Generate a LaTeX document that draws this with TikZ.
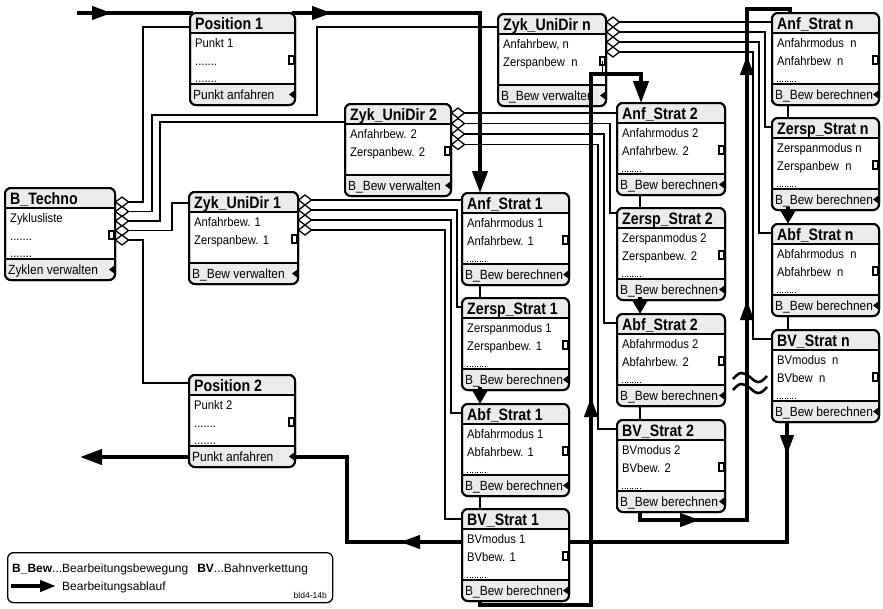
\documentclass[tikz,border=0pt]{standalone}
\usepackage{fontspec}
\setmainfont{Liberation Sans}
\newfontfamily\hf{Liberation Sans}[FakeStretch=0.86]
\newfontfamily\cf{Liberation Sans}[FakeStretch=0.9]
\usetikzlibrary{arrows.meta,shapes.geometric,decorations.markings,calc}
\tikzset{
 boxshape/.style={rectangle, rounded corners=6pt, fill=white, draw, line width=2pt, inner sep=0pt, outer sep=0pt},
 hdrfill/.style={fill=black!8},
 sepline/.style={line width=2pt},
 hdrtext/.style={font={\hf\bfseries\fontsize{16.5}{17}\selectfont}, inner sep=0pt, anchor=base west},
 bodytext/.style={font={\cf\fontsize{12.5}{13}\selectfont}, inner sep=0pt, anchor=base west},
 foottext/.style={font={\cf\fontsize{13.3}{14}\selectfont}, inner sep=0pt, anchor=base west},
 dia/.style={diamond, draw, fill=white, line width=1.3pt, minimum width=13pt, minimum height=10pt, inner sep=0pt, outer sep=0pt},
 conn/.style={line width=1.8pt},
 flow/.style={line width=4pt},
 link/.style={line width=2pt},
 arr/.style={postaction={decorate, decoration={markings, mark=at position #1 with {\arrow{Triangle[length=20pt,width=13pt]}}}}},
 endtip/.style={-{Triangle[length=22pt,width=15pt]}},
 gaptip/.style={-{Triangle[length=15pt,width=16pt]}},
}
\newcommand\klass[8]{%
 \node[boxshape, minimum width=#4pt, minimum height=92pt, anchor=north west] (#1) at (#2,#3) {};
 \begin{scope}
 \clip[rounded corners=6pt] (#1.north west) rectangle (#1.south east);
 \fill[hdrfill] (#1.north west) rectangle ([yshift=-20pt]#1.north east);
 \fill[hdrfill] ([yshift=21pt]#1.south west) rectangle (#1.south east);
 \end{scope}
 \draw[sepline] ([yshift=-20pt]#1.north west) -- ([yshift=-20pt]#1.north east);
 \draw[sepline] ([yshift=21pt]#1.south west) -- ([yshift=21pt]#1.south east);
 \draw[line width=2pt, rounded corners=6pt] (#1.north west) rectangle (#1.south east);
 \node[hdrtext] (#1-t) at ([xshift=5pt,yshift=-16pt]#1.north west) {#5};
 \node[bodytext] (#1-a) at ([xshift=5pt,yshift=-34.5pt]#1.north west) {#6};
 \node[bodytext] (#1-b) at ([xshift=5pt,yshift=-52.5pt]#1.north west) {#7};
 \node[foottext] (#1-f) at ([xshift=3pt,yshift=5.5pt]#1.south west) {#8};
 \coordinate (#1-p) at ([xshift=-3.5pt,yshift=-47pt]#1.north east);
 \draw[line width=1.3pt, fill=white] ([xshift=-2.5pt,yshift=4pt]#1-p) rectangle ([xshift=2.5pt,yshift=-4pt]#1-p);
 \fill ([yshift=15pt]#1.south east) -- ([xshift=-6pt,yshift=10.5pt]#1.south east) -- ([yshift=6pt]#1.south east) -- cycle;
}
\newcommand\dotrow[1]{\draw[line width=0.9pt, dash pattern=on 0.9pt off 1.6pt] ([xshift=5pt,yshift=24pt]#1.south west) -- ++(20,0);}
\newcommand\thirdline[2]{\node[bodytext] (#1-c) at ([xshift=5pt,yshift=-69pt]#1.north west) {#2};}

\begin{document}
\begin{tikzpicture}[x=1pt,y=-1pt]
\useasboundingbox (0,0) rectangle (883,608);
\fill[white] (0,0) rectangle (883,608);

% ---------- boxes ----------
\klass{pos1}{190}{13}{105}{Position 1}{Punkt 1}{.......}{Punkt anfahren}
\thirdline{pos1}{.......}
\klass{techno}{5}{188}{110}{B\_Techno}{Zyklusliste}{.......}{Zyklen verwalten}
\thirdline{techno}{.......}
\klass{zyk1}{189}{192}{109}{Zyk\_UniDir 1}{Anfahrbew. 1}{Zerspanbew. 1}{B\_Bew verwalten}
\klass{zyk2}{345}{104}{106}{Zyk\_UniDir 2}{Anfahrbew. 2}{Zerspanbew. 2}{B\_Bew verwalten}
\klass{zykn}{498}{14}{108}{Zyk\_UniDir n}{Anfahrbew, n}{Zerspanbew~ n}{B\_Bew verwalten}
\klass{pos2}{189}{375}{106}{Position 2}{Punkt 2}{.......}{Punkt anfahren}
\thirdline{pos2}{.......}

\klass{anf1}{462}{193}{107}{Anf\_Strat 1}{Anfahrmodus 1}{Anfahrbew. 1}{B\_Bew berechnen}
\klass{zer1}{462}{298}{107}{Zersp\_Strat 1}{Zerspanmodus 1}{Zerspanbew. 1}{B\_Bew berechnen}
\klass{abf1}{462}{404}{107}{Abf\_Strat 1}{Abfahrmodus 1}{Abfahrbew. 1}{B\_Bew berechnen}
\klass{bv1}{462}{509}{107}{BV\_Strat 1}{BVmodus 1}{BVbew. 1}{B\_Bew berechnen}
\klass{anf2}{617}{103}{108}{Anf\_Strat 2}{Anfahrmodus 2}{Anfahrbew. 2}{B\_Bew berechnen}
\klass{zer2}{617}{208}{108}{Zersp\_Strat 2}{Zerspanmodus 2}{Zerspanbew. 2}{B\_Bew berechnen}
\klass{abf2}{617}{314}{108}{Abf\_Strat 2}{Abfahrmodus 2}{Abfahrbew. 2}{B\_Bew berechnen}
\klass{bv2}{617}{420}{108}{BV\_Strat 2}{BVmodus 2}{BVbew. 2}{B\_Bew berechnen}
\klass{anfn}{772}{13}{107}{Anf\_Strat n}{Anfahrmodus~ n}{Anfahrbew~ n}{B\_Bew berechnen}
\klass{zern}{772}{118}{107}{Zersp\_Strat n}{Zerspanmodus n}{Zerspanbew~ n}{B\_Bew berechnen}
\klass{abfn}{772}{224}{107}{Abf\_Strat n}{Abfahrmodus~ n}{Abfahrbew~ n}{B\_Bew berechnen}
\klass{bvn}{772}{330}{107}{BV\_Strat n}{BVmodus~ n}{BVbew~ n}{B\_Bew berechnen}
\foreach \b in {anf1,zer1,abf1,bv1,anf2,zer2,abf2,bv2,anfn,zern,abfn,bvn}{\dotrow{\b}}

% ---------- diamonds ----------
\foreach \i/\yy in {1/202,2/211.5,3/221,4/230.5,5/240}{\node[dia] (tech-d\i) at (122,\yy) {};}
\foreach \i/\yy in {1/200,2/210,3/220,4/230}{\node[dia] (zyk1-d\i) at (305,\yy) {};}
\foreach \i/\yy in {1/113,2/123.5,3/134,4/144.5}{\node[dia] (zyk2-d\i) at (458,\yy) {};}
\foreach \i/\yy in {1/22,2/32,3/42,4/52}{\node[dia] (zykn-d\i) at (613,\yy) {};}

% ---------- connectors ----------
\draw[conn] (tech-d1.east) -| (143,27) -- (pos1.west |- 0,27);
\draw[conn] (tech-d2.east) -| (152,115) -| (317,27) -- (zykn.west |- 0,27);
\draw[conn] (tech-d3.east) -| (160,122) -- (zyk2.west |- 0,122);
\draw[conn] (tech-d4.east) -| (172,203) -- (zyk1.west |- 0,203);
\draw[conn] (tech-d5.east) -| (143,383) -- (pos2.west |- 0,383);

\draw[conn] (zyk1-d1.east) -- (zyk1-d1.east -| anf1.west);
\draw[conn] (zyk1-d2.east) -| (457,307) -- (zer1.west |- 0,307);
\draw[conn] (zyk1-d3.east) -| (451,413) -- (abf1.west |- 0,413);
\draw[conn] (zyk1-d4.east) -| (445,519) -- (bv1.west |- 0,519);

\draw[conn] (zyk2-d1.east) -- (zyk2-d1.east -| anf2.west);
\draw[conn] (zyk2-d2.east) -| (610,213) -- (zer2.west |- 0,213);
\draw[conn] (zyk2-d3.east) -| (604,323) -- (abf2.west |- 0,323);
\draw[conn] (zyk2-d4.east) -| (598,429) -- (bv2.west |- 0,429);

\draw[conn] (zykn-d1.east) -- (zykn-d1.east -| anfn.west);
\draw[conn] (zykn-d2.east) -| (765,127) -- (zern.west |- 0,127);
\draw[conn] (zykn-d3.east) -| (759,233) -- (abfn.west |- 0,233);
\draw[conn] (zykn-d4.east) -| (753,339) -- (bvn.west |- 0,339);

% ---------- links inside each column ----------
\foreach \a/\b/\xx in {anf1/zer1/480,abf1/bv1/480,anf2/zer2/640,abf2/bv2/640,anfn/zern/788,abfn/bvn/788}{
 \draw[link] (\a.south -| \xx,0) -- (\b.north -| \xx,0);}
\foreach \a/\b/\xx in {zer1/abf1/480,zer2/abf2/640,zern/abfn/788}{
 \draw[flow,gaptip] ([yshift=3pt]\a.south -| \xx,0) -- (\b.north -| \xx,0);}

% ---------- flow (Bearbeitungsablauf) ----------
\coordinate (fstart) at (77,13);
\coordinate (fend) at (80,457);
\draw[flow, arr=35pt] (fstart) -- ([xshift=3pt]pos1.north west);
\draw[flow, endtip, arr=40pt] ([xshift=-3pt]pos1.north east) -- (480,13) -- (anf1.north -| 480,0);
\draw[flow, endtip, arr=323pt] (bv1.south -| 480,0) -- (480,605) -- (591,605) -- (591,74) -- (641,74) -- (anf2.north -| 641,0);
\draw[conn] (zykn-p) -- (zykn-p |- 0,74);
\draw[flow, arr=68pt, arr=335pt, arr=580pt] (bv2.south -| 640,0) -- (640,520) -- (747,520) -- (747,9) -- (790,9) -- (anfn.north -| 790,0);
\draw[flow, arr=33pt] (bvn.south -| 787,0) -- (787,542) -- (bv1.east |- 0,542);
\draw[flow, arr=62pt] (bv1.west |- 0,542) -- (347,542) -- (347,457) -- (pos2.east |- 0,457);
\draw[flow, endtip] (pos2.west |- 0,457) -- (fend);

% break symbol
\draw[line width=2.6pt] (733,379) sin (741.5,373) cos (750,377) sin (758.5,382) cos (767,376);
\draw[line width=2.6pt] (733,390) sin (741.5,384) cos (750,388) sin (758.5,393) cos (767,387);

% ---------- legend ----------
\node[draw, rounded corners=6pt, line width=1.3pt, minimum width=325pt, minimum height=50pt, inner sep=0pt, anchor=north west] (legend) at (7,552) {};
\node[font={\fontsize{12}{14}\selectfont}, inner sep=0pt, anchor=base west] (leg1) at (12,572) {\textbf{B\_Bew}...Bearbeitungsbewegung\hspace{9pt}\textbf{BV}...Bahnverkettung};
\coordinate (legA) at (11,586);
\coordinate (legB) at (56,586);
\draw[flow, -{Triangle[length=16pt,width=11pt]}] (legA) -- (legB);
\node[font={\fontsize{12}{14}\selectfont}, inner sep=0pt, anchor=base west] (leg2) at (62,590) {Bearbeitungsablauf};
\node[font={\fontsize{8.5}{10}\selectfont}, inner sep=0pt, anchor=base east] (leg3) at (327,598) {bld4-14b};
\end{tikzpicture}
\end{document}
